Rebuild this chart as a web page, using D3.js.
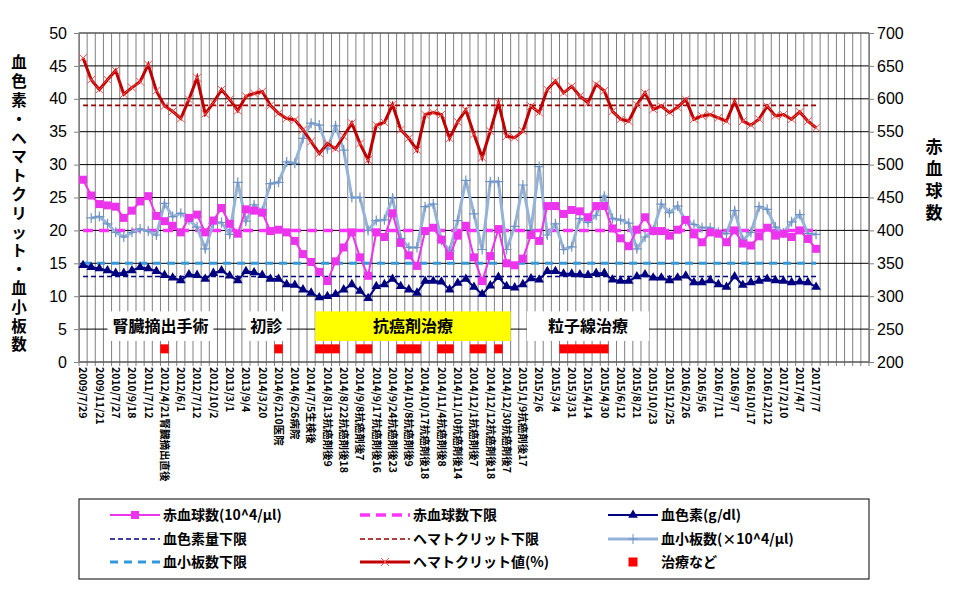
<html>
<head>
<meta charset="utf-8">
<script src="https://d3js.org/d3.v7.min.js"></script>
<style>
body { margin: 0; background: #fff; }
text { font-family: "Liberation Sans", Arial, sans-serif; }
.jp { font-family: "Noto Sans CJK JP", sans-serif; }
</style>
</head>
<body>
<div id="chart"></div>
<script>
var width = 962, height = 596;
var pLeft = 79, pRight = 869, pTop = 33, pBottom = 362;

// labels shown on every second category
var dateLabels = ["2009/7/29","2009/11/21","2010/7/27","2010/9/18","2011/7/12","2012/4/21腎臓摘出直後",
  "2012/6/1","2012/7/12","2012/10/2","2013/3/1","2013/9/4","2014/3/20","2014/6/210医院","2014/6/26病院",
  "2014/7/5生検後","2014/8/13抗癌剤後9","2014/8/22抗癌剤後18","2014/9/8抗癌剤後7","2014/9/17抗癌剤後16",
  "2014/9/24抗癌剤後23","2014/10/8抗癌剤後9","2014/10/17抗癌剤後18","2014/11/4抗癌剤後8","2014/11/10抗癌剤後14",
  "2014/12/1抗癌剤後7","2014/12/12抗癌剤後18","2014/12/30抗癌剤後7","2015/1/9抗癌剤後17","2015/2/6","2015/3/4",
  "2015/3/31","2015/4/14","2015/4/30","2015/6/12","2015/8/21","2015/10/23","2015/12/25","2016/2/26","2016/5/6",
  "2016/7/11","2016/9/7","2016/10/17","2016/12/12","2017/2/10","2017/4/7","2017/7/7"];
var nCats = 97;

var hematocrit = [46.2,42.9,41.4,42.9,44.3,40.7,41.7,42.6,45.2,41.2,38.9,38.1,37.0,39.9,43.2,37.7,39.4,41.4,39.9,38.2,
  40.4,40.8,41.1,39.0,37.8,37.0,36.8,35.3,33.5,31.7,33.2,32.4,34.3,36.3,33.2,30.7,36.0,36.4,39.1,35.3,
  34.0,32.2,37.6,37.9,37.6,34.0,36.5,38.3,34.6,31.1,35.1,39.4,34.3,34.1,35.1,38.9,37.9,41.4,42.7,40.9,
  41.9,40.4,39.4,42.2,41.2,38.1,36.9,36.6,39.1,40.9,38.4,38.9,37.9,38.7,39.9,36.9,37.4,37.6,37.1,36.6,
  39.6,36.6,36.0,36.9,38.9,37.4,37.6,36.9,38.0,36.6,35.6];
// 赤血球数 (right axis, 10^4/μl)
var rbc = [477,453,440,438,436,419,430,444,452,422,414,407,397,419,424,397,415,434,410,395,
  432,430,427,399,401,397,384,364,352,337,323,353,374,397,359,331,397,390,426,381,
  362,346,399,404,386,361,392,407,359,323,361,402,350,347,357,393,384,437,437,425,
  431,429,420,437,437,403,388,376,401,420,399,399,392,401,416,394,382,397,395,382,
  400,380,377,391,404,392,395,390,400,387,372];
var hemoglobin = [14.7,14.4,14.2,13.9,13.5,13.5,13.9,14.4,14.2,13.8,13.2,12.8,12.4,13.3,13.2,12.6,13.5,13.9,13.1,12.4,
  13.8,13.6,13.2,12.6,12.6,11.8,11.7,11.0,10.5,9.8,10.0,10.3,11.0,11.8,10.8,9.7,11.5,11.8,12.6,11.5,
  11.0,10.5,12.3,12.3,12.2,11.0,12.0,12.6,11.4,10.3,11.6,12.9,11.5,11.3,11.8,12.7,12.5,13.8,13.8,13.4,
  13.4,13.3,13.2,13.5,13.5,12.5,12.3,12.3,13.0,13.3,12.8,12.8,12.4,12.8,13.1,12.1,12.1,12.4,11.8,11.4,
  13.0,11.7,12.1,12.3,12.6,12.4,12.3,12.1,12.2,12.1,11.4];
var platelet = [null,21.9,22.1,21.0,19.7,19.0,19.7,20.2,19.9,19.3,24.1,22.1,22.6,21.6,20.5,17.2,21.1,21.2,19.4,27.3,
  21.4,23.9,22.9,27.1,27.3,30.4,30.2,34.0,36.3,36.0,32.4,35.9,32.2,25.0,25.0,20.0,21.5,21.6,24.9,18.8,
  17.4,17.4,23.6,24.0,18.5,16.9,21.5,27.6,22.5,17.1,27.4,27.4,17.1,20.6,26.9,20.1,29.7,19.3,21.0,17.1,
  17.5,21.8,21.2,22.3,25.2,21.8,21.6,21.1,17.2,19.0,20.0,24.0,22.7,23.7,21.4,20.9,20.4,20.4,19.7,19.5,
  23.0,18.5,19.7,23.6,23.2,20.5,19.6,21.3,22.4,19.5,19.4];
var treatmentIdx = [10,24,29,30,31,34,35,39,40,41,44,45,48,49,51,59,60,61,62,63,64];
var treatmentValue = 2;
var limits = { rbc: 400, hemoglobin: 13, hematocrit: 39, platelet: 15 };
var leftTicks = [0,5,10,15,20,25,30,35,40,45,50];
var rightTicks = [200,250,300,350,400,450,500,550,600,650,700];
var notes = [
  { text: "腎臓摘出手術", from: 3, to: 16, fill: "#fff" },
  { text: "初診", from: 20, to: 25, fill: "#fff" },
  { text: "抗癌剤治療", from: 28.5, to: 52.5, fill: "#ffff00" },
  { text: "粒子線治療", from: 54.5, to: 69.5, fill: "#fff" }
];

var svg = d3.select("#chart").append("svg").attr("width", width).attr("height", height);

var x = d3.scaleBand().domain(d3.range(nCats)).range([pLeft, pRight]);
var cx = function(i) { return pLeft + (i + 0.5) * x.bandwidth(); };
var yL = d3.scaleLinear().domain([0, 50]).range([pBottom, pTop]);
var yR = d3.scaleLinear().domain([200, 700]).range([pBottom, pTop]);

// vertical grid, one line per category
svg.append("g").selectAll("line").data(d3.range(nCats + 1)).enter().append("line")
  .attr("x1", function(i) { return pLeft + i * x.bandwidth(); })
  .attr("x2", function(i) { return pLeft + i * x.bandwidth(); })
  .attr("y1", pTop).attr("y2", pBottom + 4)
  .attr("stroke", "#808080").attr("stroke-width", 1);
svg.append("g").selectAll("line").data(leftTicks).enter().append("line")
  .attr("x1", pLeft).attr("x2", pRight)
  .attr("y1", function(d) { return yL(d); }).attr("y2", function(d) { return yL(d); })
  .attr("stroke", "#000").attr("stroke-width", 1);
svg.append("rect").attr("x", pLeft).attr("y", pTop).attr("width", pRight - pLeft).attr("height", pBottom - pTop)
  .attr("fill", "none").attr("stroke", "#808080");

// axes
var axL = svg.append("g").attr("transform", "translate(" + pLeft + ",0)")
  .call(d3.axisLeft(yL).tickValues(leftTicks).tickSize(5));
var axR = svg.append("g").attr("transform", "translate(" + pRight + ",0)")
  .call(d3.axisRight(yR).tickValues(rightTicks).tickSize(5));
[axL, axR].forEach(function(a) {
  a.select(".domain").attr("stroke", "#808080");
  a.selectAll("line").attr("stroke", "#808080");
  a.selectAll("text").attr("font-size", 16).attr("fill", "#000")
    .style("font-family", "'Liberation Sans', Arial, sans-serif");
});
axL.selectAll("text").attr("x", -12);
axR.selectAll("text").attr("x", 8);

// x labels
var xLab = svg.append("g");
dateLabels.forEach(function(lab, k) {
  var i = k * 2;
  xLab.append("text").attr("class", "jp")
    .attr("transform", "translate(" + cx(i) + "," + (pBottom + 5) + ") rotate(90)")
    .attr("font-size", 10.5).attr("font-weight", "bold").attr("dy", "0.35em")
    .text(lab);
});

// annotation boxes
notes.forEach(function(n) {
  var x0 = cx(n.from), x1 = cx(n.to);
  svg.append("rect").attr("x", x0).attr("y", yL(7.7)).attr("width", x1 - x0).attr("height", yL(3.2) - yL(7.7))
    .attr("fill", n.fill);
  svg.append("text").attr("class", "jp").attr("x", (x0 + x1) / 2).attr("y", yL(5.4))
    .attr("text-anchor", "middle").attr("dy", "0.35em").attr("font-size", 16).attr("font-weight", "bold")
    .text(n.text);
});

// treatment markers
svg.append("g").selectAll("rect").data(treatmentIdx).enter().append("rect")
  .attr("x", function(i) { return cx(i) - 4.2; }).attr("y", yL(treatmentValue) - 4.5)
  .attr("width", 8.4).attr("height", 9).attr("fill", "#ff0000");

// lower limit lines
var xa = cx(0), xb = cx(hematocrit.length - 1);
function limitLine(yv, color, w, dash) {
  svg.append("line").attr("x1", xa).attr("x2", xb).attr("y1", yv).attr("y2", yv)
    .attr("stroke", color).attr("stroke-width", w).attr("stroke-dasharray", dash);
}
limitLine(yR(limits.rbc), "#ff33ff", 3.5, "10,6");
limitLine(yL(limits.platelet), "#3399dd", 3, "8,6");
limitLine(yL(limits.hemoglobin), "#000080", 1.6, "5,3");
limitLine(yL(limits.hematocrit), "#990000", 1.6, "5,3");

var line = function(ys) {
  return d3.line().defined(function(d) { return d != null; })
    .x(function(d, i) { return cx(i); }).y(function(d) { return ys(d); });
};

// platelet
svg.append("path").datum(platelet).attr("d", line(yL)).attr("fill", "none")
  .attr("stroke", "#95b3d7").attr("stroke-width", 3);
platelet.forEach(function(d, i) {
  if (d == null) return;
  var px = cx(i), py = yL(d);
  svg.append("path").attr("d", "M" + (px - 5) + "," + py + "H" + (px + 5) + "M" + px + "," + (py - 5) + "V" + (py + 5))
    .attr("stroke", "#6f95c8").attr("stroke-width", 1.2);
});

// rbc
svg.append("path").datum(rbc).attr("d", line(yR)).attr("fill", "none")
  .attr("stroke", "#ee33ee").attr("stroke-width", 2);
svg.append("g").selectAll("rect").data(rbc).enter().append("rect")
  .attr("x", function(d, i) { return cx(i) - 4; }).attr("y", function(d) { return yR(d) - 4; })
  .attr("width", 8).attr("height", 8).attr("fill", "#ee33ee");

// hemoglobin
svg.append("path").datum(hemoglobin).attr("d", line(yL)).attr("fill", "none")
  .attr("stroke", "#000080").attr("stroke-width", 2);
svg.append("g").selectAll("path").data(hemoglobin).enter().append("path")
  .attr("d", d3.symbol().type(d3.symbolTriangle).size(40))
  .attr("transform", function(d, i) { return "translate(" + cx(i) + "," + yL(d) + ")"; })
  .attr("fill", "#000080");

// hematocrit
svg.append("path").datum(hematocrit).attr("d", line(yL)).attr("fill", "none")
  .attr("stroke", "#c00000").attr("stroke-width", 3);
hematocrit.forEach(function(d, i) {
  var px = cx(i), py = yL(d), s = 4;
  svg.append("path").attr("d", "M" + (px - s) + "," + (py - s) + "L" + (px + s) + "," + (py + s) +
    "M" + (px + s) + "," + (py - s) + "L" + (px - s) + "," + (py + s))
    .attr("stroke", "#ff5050").attr("stroke-width", 1);
});

// axis titles (vertical text)
"血色素・ヘマトクリット・血小板数".split("").forEach(function(c, k) {
  svg.append("text").attr("class", "jp").attr("x", 19).attr("y", 63 + k * 18.8)
    .attr("text-anchor", "middle").attr("dy", "0.35em").attr("font-size", 15.5).attr("font-weight", "bold")
    .text(c);
});
"赤血球数".split("").forEach(function(c, k) {
  svg.append("text").attr("class", "jp").attr("x", 934).attr("y", 147 + k * 22)
    .attr("text-anchor", "middle").attr("dy", "0.35em").attr("font-size", 17).attr("font-weight", "bold")
    .text(c);
});

// legend
svg.append("rect").attr("x", 79).attr("y", 499).attr("width", 790).attr("height", 80)
  .attr("fill", "#fff").attr("stroke", "#000");
var legend = [
  { t: "赤血球数(10^4/μl)", type: "rbc" }, { t: "赤血球数下限", type: "rbcL" }, { t: "血色素(g/dl)", type: "hgb" },
  { t: "血色素量下限", type: "hgbL" }, { t: "ヘマトクリット下限", type: "hctL" }, { t: "血小板数(×10^4/μl)", type: "plt" },
  { t: "血小板数下限", type: "pltL" }, { t: "ヘマトクリット値(%)", type: "hct" }, { t: "治療など", type: "tr" }
];
var colX = [110, 360, 608], rowY = [515, 539, 562];
legend.forEach(function(l, k) {
  var x0 = colX[k % 3], y0 = rowY[Math.floor(k / 3)], x1 = x0 + 50, m = x0 + 25;
  var g = svg.append("g");
  if (l.type == "rbc") {
    g.append("line").attr("x1", x0).attr("x2", x1).attr("y1", y0).attr("y2", y0).attr("stroke", "#ee33ee").attr("stroke-width", 2);
    g.append("rect").attr("x", m - 4).attr("y", y0 - 4).attr("width", 8).attr("height", 8).attr("fill", "#ee33ee");
  } else if (l.type == "rbcL") {
    g.append("line").attr("x1", x0).attr("x2", x1).attr("y1", y0).attr("y2", y0).attr("stroke", "#ff33ff").attr("stroke-width", 3.5).attr("stroke-dasharray", "10,6");
  } else if (l.type == "hgb") {
    g.append("line").attr("x1", x0).attr("x2", x1).attr("y1", y0).attr("y2", y0).attr("stroke", "#000080").attr("stroke-width", 2);
    g.append("path").attr("d", d3.symbol().type(d3.symbolTriangle).size(40)).attr("transform", "translate(" + m + "," + y0 + ")").attr("fill", "#000080");
  } else if (l.type == "hgbL") {
    g.append("line").attr("x1", x0).attr("x2", x1).attr("y1", y0).attr("y2", y0).attr("stroke", "#000080").attr("stroke-width", 1.6).attr("stroke-dasharray", "5,3");
  } else if (l.type == "hctL") {
    g.append("line").attr("x1", x0).attr("x2", x1).attr("y1", y0).attr("y2", y0).attr("stroke", "#990000").attr("stroke-width", 1.6).attr("stroke-dasharray", "5,3");
  } else if (l.type == "plt") {
    g.append("line").attr("x1", x0).attr("x2", x1).attr("y1", y0).attr("y2", y0).attr("stroke", "#95b3d7").attr("stroke-width", 3);
    g.append("path").attr("d", "M" + (m - 5) + "," + y0 + "H" + (m + 5) + "M" + m + "," + (y0 - 5) + "V" + (y0 + 5)).attr("stroke", "#6f95c8");
  } else if (l.type == "pltL") {
    g.append("line").attr("x1", x0).attr("x2", x1).attr("y1", y0).attr("y2", y0).attr("stroke", "#3399dd").attr("stroke-width", 3).attr("stroke-dasharray", "8,6");
  } else if (l.type == "hct") {
    g.append("line").attr("x1", x0).attr("x2", x1).attr("y1", y0).attr("y2", y0).attr("stroke", "#c00000").attr("stroke-width", 3);
    g.append("path").attr("d", "M" + (m - 4) + "," + (y0 - 4) + "L" + (m + 4) + "," + (y0 + 4) + "M" + (m + 4) + "," + (y0 - 4) + "L" + (m - 4) + "," + (y0 + 4)).attr("stroke", "#ff5050");
  } else {
    g.append("rect").attr("x", m - 4.5).attr("y", y0 - 4.5).attr("width", 9).attr("height", 9).attr("fill", "#ff0000");
  }
  svg.append("text").attr("class", "jp").attr("x", x1 + 3).attr("y", y0).attr("dy", "0.35em")
    .attr("font-size", 14).attr("font-weight", "bold").text(l.t);
});
</script>
</body>
</html>
